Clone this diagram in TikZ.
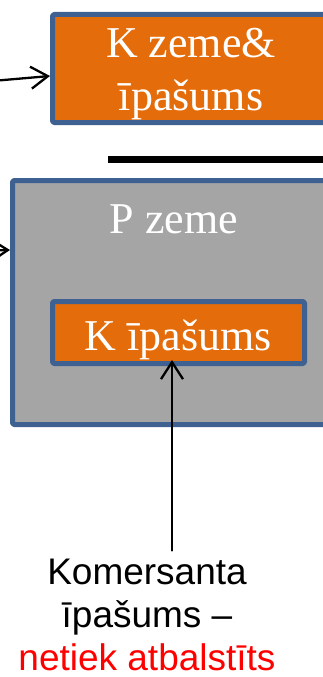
\documentclass[tikz,border=0pt]{standalone}
\usepackage{fontspec}
\setmainfont{Liberation Serif}
\setsansfont{Liberation Sans}
\usetikzlibrary{arrows.meta}
\definecolor{boxorange}{HTML}{E46C0A}
\definecolor{boxgrey}{HTML}{A5A5A5}
\definecolor{boxline}{HTML}{3F6191}
\tikzset{
  landbox/.style={draw=boxline,line width=5pt,rounded corners=1.5pt,inner sep=0pt},
  boxtext/.style={text=white,font=\fontsize{44}{52}\selectfont,inner sep=0pt,anchor=base},
  arr/.style={-{Straight Barb[length=17pt,width=22pt]},line width=2.3pt},
}
\begin{document}
\begin{tikzpicture}[x=1pt,y=-1pt,line join=round,line cap=round]
\useasboundingbox (0,0) rectangle (323,677);
\clip (0,0) rectangle (323,677);
% top box
\node[landbox,fill=boxorange,minimum width=277pt,minimum height=108pt] (kland) at (191,68.5) {};
\node[boxtext] (kland1) at (191,58) {K zeme\&};
\node[boxtext] (kland2) at (191,110) {īpašums};
\coordinate (from1) at (-2,80.5);
\draw[arr] (from1) -- ([yshift=-7.5pt]kland.west);
% separator
\draw[line width=7pt,line cap=butt] (108,159.5) -- (330,159.5);
% grey box
\node[landbox,fill=boxgrey,minimum width=323pt,minimum height=244pt] (pland) at (174,302.5) {};
\node[boxtext] (ptitle) at (174,233) {P zeme};
\coordinate (from2) at (-40,251);
\draw[arr] (from2) -- ([yshift=52.5pt]pland.west);
% inner box
\node[landbox,fill=boxorange,minimum width=252pt,minimum height=62pt] (kprop) at (178.5,332.5) {};
\node[boxtext] (ktitle) at (178,350) {K īpašums};
% note
\node[font=\sffamily\fontsize{37}{43}\selectfont,align=center,inner sep=0pt,anchor=north] (note) at (147,558.5)
  {Komersanta\\īpašums –\\\textcolor{red}{netiek atbalstīts}};
\draw[arr] ([xshift=25pt,yshift=8pt]note.north) -- ([xshift=-6.5pt,yshift=6pt]kprop.south);
\end{tikzpicture}
\end{document}
